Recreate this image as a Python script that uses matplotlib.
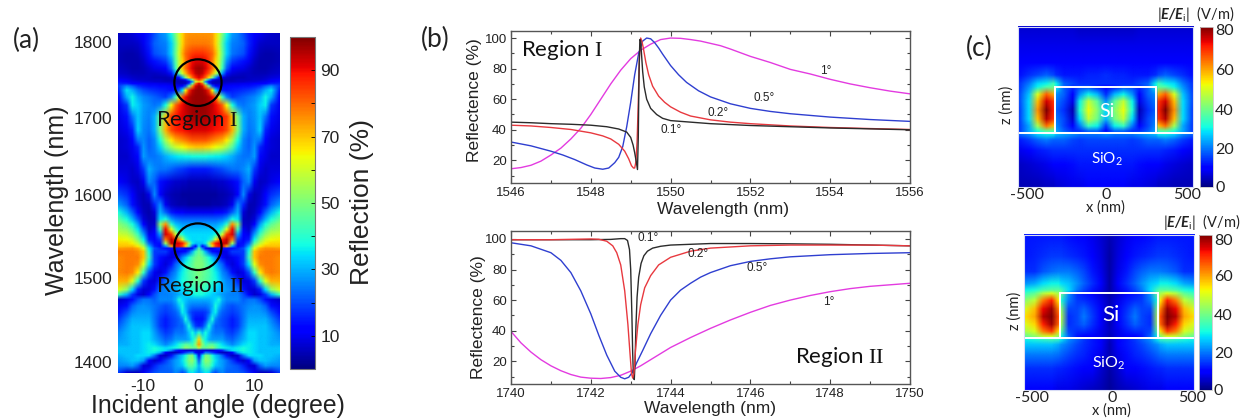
"""Three panel figure: reflection map (a), reflectance spectra (b), field maps (c)."""
import numpy as np
import matplotlib

matplotlib.use("Agg")
import matplotlib.pyplot as plt
from matplotlib.colors import Normalize
from matplotlib.image import NonUniformImage
from matplotlib.patches import Ellipse, Rectangle
from matplotlib.ticker import MultipleLocator

plt.rcParams["font.family"] = ["Liberation Sans", "DejaVu Sans"]
plt.rcParams["axes.unicode_minus"] = False
plt.rcParams["mathtext.fontset"] = "custom"
plt.rcParams["mathtext.rm"] = "Liberation Serif"
plt.rcParams["mathtext.bfit"] = "Lato:italic:bold"

W, H = 1246, 419

# (a) reflection map, read on a grid; the map is mirror symmetric in angle
ANGLES = [0, 0.6, 1.2, 1.8, 2.4, 3, 3.6, 4.2, 5, 6, 7, 8, 9, 10, 11, 12, 13, 14.5]
LAMBDAS = [1800, 1788, 1776, 1767, 1759, 1753, 1748, 1745.4, 1743, 1741, 1738, 1733, 1725, 1715.5,
           1702, 1686, 1674, 1666, 1655, 1640, 1625, 1610, 1598, 1589, 1581, 1575, 1569, 1563, 1557,
           1552.5, 1549, 1546.6, 1542.6, 1535.6, 1527.7, 1518, 1508, 1498, 1492, 1486, 1478.6, 1471,
           1463, 1455, 1447, 1439, 1433, 1429, 1426, 1423.6, 1420, 1414, 1408, 1400]
R_MAP = [
    [75, 75, 75, 75, 74, 68, 60, 50, 37, 28, 25, 20, 15, 12, 10, 8, 7, 6],
    [78, 78, 78, 77, 75, 68, 58, 46, 33, 25, 24, 22, 16, 10, 7, 6, 6, 6],
    [86, 86, 85, 83, 80, 72, 60, 48, 33, 24, 22, 20, 14, 8, 5, 4, 4, 5],
    [92, 92, 90, 85, 78, 68, 58, 45, 27, 18, 16, 14, 10, 6, 4, 4, 4, 5],
    [97, 96, 92, 87, 80, 70, 58, 42, 22, 12, 10, 9, 7, 5, 4, 4, 5, 6],
    [96, 94, 88, 82, 72, 60, 45, 28, 14, 8, 7, 6, 6, 5, 5, 5, 6, 7],
    [92, 88, 80, 68, 50, 28, 14, 9, 6, 5, 5, 5, 6, 6, 6, 7, 8, 9],
    [85, 75, 50, 28, 14, 8, 6, 5, 5, 5, 6, 6, 6, 7, 7, 8, 10, 12],
    [70, 60, 25, 10, 6, 5, 5, 5, 6, 6, 7, 7, 8, 8, 9, 10, 12, 14],
    [92, 80, 45, 18, 7, 6, 6, 7, 8, 9, 9, 10, 10, 11, 12, 13, 16, 16],
    [97, 92, 75, 48, 20, 11, 10, 10, 11, 13, 13, 14, 14, 15, 17, 22, 26, 18],
    [98, 97, 94, 86, 65, 35, 20, 15, 14, 15, 16, 17, 18, 20, 24, 30, 35, 16],
    [98, 98, 97, 95, 90, 82, 62, 42, 25, 18, 20, 22, 24, 26, 30, 37, 30, 13],
    [98, 98, 97, 96, 94, 90, 86, 80, 64, 38, 26, 24, 26, 28, 33, 36, 18, 10],
    [97, 97, 97, 95, 93, 92, 90, 88, 85, 70, 48, 30, 25, 27, 32, 24, 14, 9],
    [92, 92, 92, 91, 90, 89, 88, 87, 83, 72, 50, 30, 24, 26, 33, 16, 10, 8],
    [82, 82, 82, 80, 78, 76, 74, 72, 66, 55, 38, 26, 22, 26, 24, 12, 8, 7],
    [70, 70, 69, 68, 66, 64, 62, 60, 54, 45, 33, 25, 22, 27, 16, 10, 8, 7],
    [38, 38, 38, 37, 37, 36, 36, 35, 33, 30, 26, 24, 24, 28, 13, 9, 7, 7],
    [15, 15, 15, 16, 17, 18, 19, 20, 22, 24, 24, 26, 30, 18, 9, 7, 8, 8],
    [5, 5, 5, 5, 6, 6, 7, 7, 8, 10, 14, 22, 26, 10, 6, 7, 9, 12],
    [3, 3, 3, 3, 3, 3, 4, 4, 5, 7, 12, 26, 9, 5, 7, 12, 17, 20],
    [3, 3, 3, 3, 4, 4, 4, 5, 6, 10, 26, 16, 5, 5, 8, 14, 22, 28],
    [10, 10, 10, 10, 10, 11, 12, 13, 15, 22, 30, 8, 4, 6, 12, 22, 30, 38],
    [22, 22, 22, 22, 22, 22, 23, 24, 28, 38, 35, 6, 5, 8, 20, 30, 38, 46],
    [28, 28, 28, 28, 28, 28, 30, 32, 40, 75, 52, 7, 6, 12, 28, 38, 46, 52],
    [32, 32, 32, 32, 32, 32, 35, 42, 62, 90, 42, 10, 7, 20, 35, 45, 52, 55],
    [34, 34, 34, 34, 35, 38, 44, 60, 85, 92, 28, 12, 10, 28, 42, 52, 58, 60],
    [35, 34, 34, 36, 42, 60, 76, 88, 94, 78, 18, 12, 15, 36, 50, 60, 64, 65],
    [32, 32, 36, 52, 75, 88, 92, 94, 94, 55, 14, 14, 22, 45, 58, 65, 68, 68],
    [35, 12, 22, 45, 68, 84, 90, 90, 72, 28, 12, 16, 30, 55, 65, 70, 70, 70],
    [45, 25, 12, 8, 10, 14, 16, 14, 14, 14, 16, 20, 35, 62, 72, 75, 75, 74],
    [48, 42, 30, 20, 14, 12, 10, 8, 10, 18, 18, 18, 38, 70, 76, 78, 78, 78],
    [50, 48, 44, 38, 32, 26, 18, 13, 8, 10, 14, 18, 42, 70, 78, 78, 78, 76],
    [50, 50, 46, 42, 38, 32, 26, 22, 14, 8, 12, 18, 35, 62, 76, 78, 78, 76],
    [50, 48, 46, 44, 40, 36, 32, 26, 22, 14, 8, 10, 20, 42, 66, 76, 78, 76],
    [48, 47, 45, 43, 40, 38, 34, 30, 26, 24, 16, 8, 9, 18, 40, 62, 72, 72],
    [42, 42, 40, 38, 36, 34, 32, 30, 28, 26, 24, 14, 8, 8, 16, 34, 52, 62],
    [38, 38, 36, 35, 33, 32, 30, 28, 26, 25, 25, 20, 12, 7, 9, 18, 30, 42],
    [30, 30, 30, 30, 32, 34, 38, 30, 26, 26, 26, 22, 24, 24, 20, 14, 9, 7],
    [24, 24, 24, 26, 30, 38, 32, 26, 22, 20, 22, 24, 26, 27, 26, 22, 14, 10],
    [17, 17, 18, 22, 32, 36, 26, 22, 20, 18, 20, 24, 28, 28, 28, 26, 20, 14],
    [14, 14, 18, 28, 38, 26, 22, 20, 18, 15, 18, 24, 30, 30, 30, 30, 25, 18],
    [16, 18, 26, 38, 28, 22, 22, 20, 18, 15, 18, 25, 32, 32, 32, 32, 28, 22],
    [40, 32, 38, 32, 26, 24, 24, 24, 20, 18, 22, 28, 34, 34, 32, 32, 30, 26],
    [68, 45, 36, 30, 28, 28, 28, 28, 24, 22, 26, 30, 34, 34, 32, 32, 30, 28],
    [74, 52, 42, 45, 46, 42, 38, 34, 30, 26, 30, 34, 36, 34, 32, 32, 30, 30],
    [60, 48, 48, 50, 52, 46, 40, 38, 36, 34, 36, 38, 36, 34, 32, 32, 32, 32],
    [8, 8, 8, 8, 8, 10, 12, 16, 26, 34, 36, 38, 36, 34, 32, 32, 32, 32],
    [8, 12, 24, 22, 18, 14, 8, 6, 6, 12, 30, 36, 36, 34, 32, 32, 32, 32],
    [10, 35, 50, 48, 38, 32, 28, 22, 14, 6, 8, 24, 34, 34, 34, 32, 32, 30],
    [22, 42, 52, 50, 42, 35, 30, 28, 24, 18, 10, 7, 12, 28, 32, 32, 30, 28],
    [30, 40, 46, 46, 38, 32, 30, 28, 24, 22, 20, 16, 8, 8, 22, 28, 26, 26],
    [28, 32, 36, 34, 24, 20, 24, 26, 22, 22, 22, 20, 16, 10, 6, 6, 8, 18],
]
MAP_YTICKS = [1791, 1701, 1610, 1512, 1413]  # labels are offset from true position in the source
MAP_YLABELS = ["1800", "1700", "1600", "1500", "1400"]
CBAR_A_LABELS = [10, 30, 50, 70, 90]

# (b) Region I spectra
W1_01 = [1546, 1546.5, 1547, 1547.5, 1548, 1548.4, 1548.7, 1548.9, 1549, 1549.06, 1549.1, 1549.14, 1549.17,
         1549.19, 1549.21, 1549.23, 1549.25, 1549.27, 1549.3, 1549.34, 1549.4, 1549.5, 1549.65, 1549.8, 1550,
         1550.5, 1551, 1552, 1553, 1554, 1555, 1556]
R1_01 = [45, 44.6, 44, 43.6, 43, 42, 40.5, 38.5, 35, 30, 25, 19, 14, 35, 80, 99, 98, 90, 78, 68, 60, 54, 50,
         47.5, 46, 45, 44, 42.8, 42, 41.2, 40.6, 40]
W1_02 = [1546, 1546.5, 1547, 1547.5, 1548, 1548.3, 1548.5, 1548.7, 1548.85, 1548.95, 1549.02, 1549.07, 1549.1,
         1549.13, 1549.16, 1549.19, 1549.22, 1549.25, 1549.28, 1549.32, 1549.38, 1549.45, 1549.55, 1549.7,
         1549.85, 1550, 1550.25, 1550.5, 1551, 1551.5, 1552, 1553, 1554, 1555, 1556]
R1_02 = [43, 42.5, 41.5, 40.2, 38, 36, 34, 30.5, 26, 21, 16.5, 15, 15, 19, 32, 58, 88, 100, 98, 93, 84, 76,
         68.5, 62, 58, 55, 51.5, 49, 46.5, 45, 44, 42.5, 41.5, 40.8, 40.2]
W1_05 = [1546, 1546.5, 1547, 1547.3, 1547.6, 1547.9, 1548.1, 1548.3, 1548.45, 1548.6, 1548.7, 1548.8, 1548.9,
         1549, 1549.1, 1549.2, 1549.3, 1549.4, 1549.5, 1549.6, 1549.7, 1549.8, 1550, 1550.2, 1550.4, 1550.7,
         1551, 1551.5, 1552, 1552.5, 1553, 1554, 1555, 1556]
R1_05 = [32, 29.5, 26, 23.5, 20.5, 17, 15, 14.2, 15, 18.5, 22, 29, 42, 58, 76, 90, 98, 100, 99.5, 97, 93.5,
         89.5, 82, 76, 71, 65.5, 61.5, 57, 54, 52, 50.5, 48.3, 46.7, 45.5]
W1_10 = [1546, 1546.25, 1546.5, 1546.75, 1547, 1547.25, 1547.5, 1547.75, 1548, 1548.25, 1548.5, 1548.75, 1549,
         1549.25, 1549.5, 1549.75, 1550, 1550.25, 1550.5, 1550.75, 1551, 1551.25, 1551.5, 1552, 1552.5, 1553,
         1553.5, 1554, 1554.5, 1555, 1555.5, 1556]
R1_10 = [14.5, 15.3, 16.8, 19.5, 23.5, 28, 34, 41, 50, 60, 70, 79, 86.5, 92, 96, 99, 100, 99.8, 99, 98, 96.5,
         95, 92.8, 88, 84, 79.5, 76.5, 73, 70, 67.5, 65.3, 63.5]

# (b) Region II spectra
W2_01 = [1740, 1741, 1742, 1742.5, 1742.75, 1742.85, 1742.92, 1742.97, 1743, 1743.03, 1743.05, 1743.07, 1743.09,
         1743.11, 1743.13, 1743.16, 1743.2, 1743.26, 1743.33, 1743.42, 1743.55, 1743.75, 1744, 1745, 1746, 1747,
         1748, 1749, 1750]
R2_01 = [99.5, 99.5, 99.5, 99.7, 100.2, 100.2, 99, 93, 80, 50, 25, 9, 8, 20, 42, 62, 75, 84, 89, 92, 94, 95.2,
         96, 97, 97, 96.8, 96.5, 96, 95.5]
W2_02 = [1740, 1741, 1742, 1742.2, 1742.4, 1742.55, 1742.65, 1742.75, 1742.85, 1742.93, 1742.98, 1743.02, 1743.05,
         1743.08, 1743.12, 1743.18, 1743.25, 1743.35, 1743.5, 1743.7, 1744, 1744.5, 1745, 1746, 1747, 1748, 1749,
         1750]
R2_02 = [99.5, 99.5, 100, 99.8, 98.5, 95.5, 91, 83, 66, 44, 26, 12, 9, 12, 27, 44, 57, 68, 76, 83, 88, 92, 94,
         95.5, 96, 96, 96, 95.5]
W2_05 = [1740, 1740.5, 1741, 1741.25, 1741.5, 1741.75, 1742, 1742.2, 1742.4, 1742.6, 1742.75, 1742.85, 1742.95,
         1743.05, 1743.15, 1743.3, 1743.5, 1743.75, 1744, 1744.25, 1744.5, 1744.75, 1745, 1745.5, 1746, 1746.5,
         1747, 1747.5, 1748, 1749, 1750]
R2_05 = [97.5, 95.5, 91, 86, 78, 66, 51, 37, 24, 13.5, 9.5, 8.5, 9.5, 13, 19, 27, 38, 50, 60, 66.5, 71, 75, 78,
         82.5, 85.3, 87, 88.3, 89, 89.7, 90.5, 91]
W2_10 = [1740, 1740.25, 1740.5, 1740.75, 1741, 1741.25, 1741.5, 1741.75, 1742, 1742.25, 1742.5, 1742.75, 1743,
         1743.25, 1743.5, 1743.75, 1744, 1744.5, 1745, 1745.5, 1746, 1746.5, 1747, 1747.5, 1748, 1748.5, 1749,
         1749.5, 1750]
R2_10 = [39.5, 32, 26, 21, 17, 13.8, 11.3, 9.6, 8.9, 8.7, 9.3, 10.8, 13.5, 17, 21, 25, 29, 35.5, 41.5, 47, 52,
         56.5, 60, 63, 65.5, 67.5, 69, 70, 71]

# (c) field maps, read on a grid (half of the section, mirrored in x)
FIELD_X = [0, 50, 100, 150, 190, 240, 285, 300, 340, 390, 440, 500]
TOP_Z = [606, 500, 400, 330, 280, 263, 220, 180, 130, 80, 40, 10, -5, -40, -100, -180, -305]
TOP_E = [
    [5, 5, 5, 5, 6, 6, 6, 6, 6, 6, 6, 6],
    [8, 8, 8, 8, 8, 8, 8, 8, 8, 8, 8, 8],
    [10, 10, 10, 10, 10, 10, 10, 10, 10, 10, 10, 9],
    [14, 13, 13, 12, 12, 12, 14, 16, 18, 16, 14, 11],
    [14, 14, 14, 14, 16, 18, 30, 35, 30, 28, 20, 14],
    [10, 12, 16, 16, 14, 18, 30, 38, 36, 30, 22, 14],
    [14, 25, 30, 22, 10, 18, 22, 60, 66, 50, 26, 15],
    [22, 38, 48, 30, 8, 16, 20, 70, 76, 58, 28, 15],
    [28, 42, 52, 32, 4, 14, 18, 72, 82, 62, 28, 14],
    [25, 40, 48, 28, 6, 16, 20, 70, 78, 58, 28, 14],
    [15, 30, 34, 20, 10, 16, 22, 58, 65, 45, 24, 14],
    [10, 18, 18, 14, 14, 18, 24, 36, 38, 32, 24, 14],
    [22, 20, 20, 20, 22, 24, 26, 30, 30, 28, 22, 18],
    [16, 16, 16, 15, 16, 18, 18, 18, 20, 18, 15, 12],
    [14, 14, 14, 14, 14, 14, 14, 14, 13, 12, 10, 8],
    [12, 12, 12, 12, 11, 10, 10, 9, 8, 7, 6, 5],
    [9, 9, 9, 8, 8, 7, 6, 5, 5, 4, 4, 4],
]
BOT_Z = [607, 480, 390, 320, 280, 262, 220, 170, 125, 80, 40, 8, -5, -40, -100, -180, -303]
BOT_E = [
    [4, 6, 8, 9, 10, 11, 12, 12, 12, 12, 12, 12],
    [3, 7, 10, 12, 13, 14, 15, 15, 15, 14, 13, 12],
    [3, 8, 12, 16, 18, 20, 20, 20, 19, 17, 14, 14],
    [3, 9, 14, 18, 22, 26, 28, 30, 30, 28, 24, 22],
    [3, 8, 12, 16, 20, 28, 36, 38, 38, 36, 32, 30],
    [3, 6, 10, 12, 14, 22, 40, 45, 50, 46, 38, 34],
    [4, 8, 12, 14, 15, 20, 32, 55, 72, 64, 48, 42],
    [4, 9, 14, 18, 16, 16, 42, 64, 80, 74, 58, 50],
    [4, 9, 15, 20, 16, 14, 46, 68, 84, 78, 60, 55],
    [4, 9, 14, 18, 16, 14, 44, 66, 80, 72, 56, 50],
    [5, 8, 12, 14, 14, 16, 38, 56, 70, 64, 50, 46],
    [4, 8, 10, 10, 12, 18, 30, 42, 50, 48, 42, 38],
    [5, 9, 12, 15, 18, 22, 30, 34, 36, 34, 32, 30],
    [4, 9, 12, 14, 16, 19, 22, 24, 26, 26, 26, 26],
    [4, 8, 11, 13, 14, 16, 18, 19, 20, 20, 20, 20],
    [3, 6, 9, 10, 11, 12, 13, 13, 14, 14, 14, 14],
    [2, 4, 5, 6, 7, 8, 8, 8, 9, 9, 9, 9],
]
FIELD_TICKS = [0, 20, 40, 60, 80]

BLACK, RED, BLUE, MAGENTA = "#2b2b2b", "#e8393f", "#2f3fd0", "#e33be0"
TXT = "#222222"


def px_axes(fig, left, top, right, bottom):
    return fig.add_axes([left / W, 1 - bottom / H, (right - left) / W, (bottom - top) / H])


def px_text(fig, x, y, s, **kw):
    kw.setdefault("ha", "center")
    kw.setdefault("va", "center")
    kw.setdefault("color", TXT)
    return fig.text(x / W, 1 - y / H, s, **kw)


def map_image(ax, half_x, y_desc, half_values, vmax):
    """Bilinear image from a half grid, mirrored in x; y_desc runs from top to bottom."""
    half_values = np.asarray(half_values, dtype=float)[::-1]
    half_x = np.asarray(half_x, dtype=float)
    xs = np.concatenate([-half_x[:0:-1], half_x])
    ys = np.asarray(y_desc, dtype=float)[::-1]
    vals = np.hstack([half_values[:, :0:-1], half_values])
    im = NonUniformImage(ax, interpolation="bilinear", cmap="jet", norm=Normalize(0, vmax),
                         extent=(xs[0], xs[-1], ys[0], ys[-1]))
    im.set_data(xs, ys, vals)
    ax.add_image(im)
    ax.set_xlim(xs[0], xs[-1])
    ax.set_ylim(ys[0], ys[-1])
    ax.set_facecolor("#0000b8")
    return im


def spectra_panel(fig, top, bottom, xlim, ylim, curves, labels):
    ax = px_axes(fig, 511, top, 910, bottom)
    for wl, r, c in curves:
        ax.plot(wl, r, color=c, lw=1.0)
    ax.set_xlim(*xlim)
    ax.set_ylim(*ylim)
    ax.xaxis.set_major_locator(MultipleLocator(2))
    ax.xaxis.set_minor_locator(MultipleLocator(1))
    ax.yaxis.set_major_locator(MultipleLocator(20))
    ax.yaxis.set_minor_locator(MultipleLocator(10))
    ax.tick_params(which="both", direction="in", top=True, right=True, color="#444444",
                   labelsize=9.5, labelcolor=TXT, pad=3, width=0.8)
    ax.tick_params(which="major", length=3.5)
    ax.tick_params(which="minor", length=2)
    for sp in ax.spines.values():
        sp.set_color("#555555")
        sp.set_linewidth(1.0)
    for x, y, s in labels:
        px_text(fig, x, y, s, fontsize=8.5)
    return ax


def field_panel(fig, box, cbar, values, zs, ticks_y, tick_x, head, xlab, zlab, si, sio2, fs):
    left, top, right, bottom = box
    ax = px_axes(fig, left, top, right, bottom)
    im = map_image(ax, FIELD_X, zs, values, 82)
    ax.set_xticks([])
    ax.set_yticks([])
    for sp in ax.spines.values():
        sp.set_color("#d8dcf5")
        sp.set_linewidth(0.8)
    ax.add_patch(Rectangle((-288, 0), 576, 265, fill=False, ec="white", lw=1.4))
    ax.plot([-500, 500], [0, 0], color="white", lw=1.4)

    cax = px_axes(fig, *cbar)
    cb = fig.colorbar(im, cax=cax)
    cb.set_ticks([])
    cb.outline.set_edgecolor("#c8c8c8")
    cb.outline.set_linewidth(0.6)
    for v, y in zip(FIELD_TICKS, ticks_y):
        px_text(fig, cbar[2] + 2, y, str(v), fontsize=fs + 1, ha="left", family="Lato")
    for s, x in zip(["-500", "0", "500"], tick_x):
        px_text(fig, x, bottom + 8, s, fontsize=fs + 1, family="Lato")
    px_text(fig, head[0], head[1], r"|$\mathbfit{E/E}_{\mathdefault{i}}$|  (V/m)", fontsize=fs, family="Lato")
    px_text(fig, xlab[0], xlab[1], "x (nm)", fontsize=fs, family="Lato")
    px_text(fig, zlab[0], zlab[1], "z (nm)", fontsize=fs, family="Lato", rotation=90)
    px_text(fig, si[0], si[1], "Si", fontsize=si[2], family="Lato", color="white")
    px_text(fig, sio2[0], sio2[1], r"SiO$_\mathdefault{2}$", fontsize=sio2[2], family="Lato", color="white")


fig = plt.figure(figsize=(W / 100, H / 100), dpi=100)

# --- (a)
ax = px_axes(fig, 118, 34, 279, 373)
im = map_image(ax, ANGLES, LAMBDAS, R_MAP, 100)
ax.set_xticks([-10, 0, 10])
ax.set_yticks(MAP_YTICKS)
ax.set_yticklabels(MAP_YLABELS)
ax.tick_params(length=0, labelsize=12.5, labelcolor=TXT, pad=4)
for sp in ax.spines.values():
    sp.set_visible(False)
for center in (1742.6, 1549):
    ax.add_patch(Ellipse((-0.1, center), 8.5, 55, fill=False, ec="black", lw=1.6))

cax = px_axes(fig, 290, 37, 315, 369)
cb = fig.colorbar(im, cax=cax)
cb.set_ticks(CBAR_A_LABELS)
cb.ax.yaxis.set_minor_locator(MultipleLocator(10))
cb.ax.tick_params(which="both", direction="in", length=3, labelsize=12.5, labelcolor=TXT, pad=4, width=0.6)
cb.outline.set_edgecolor("#777777")

px_text(fig, 57, 200, "Wavelength (nm)", fontsize=18, rotation=90)
px_text(fig, 218, 406, "Incident angle (degree)", fontsize=17.8)
px_text(fig, 362, 202, "Reflection (%)", fontsize=19, rotation=90)
px_text(fig, 26, 40, "(a)", fontsize=19, family="Lato")
px_text(fig, 435, 39, "(b)", fontsize=19, family="Lato")
px_text(fig, 979, 48, "(c)", fontsize=19, family="Lato")
px_text(fig, 156, 120, r"Region $\mathrm{I}$", fontsize=16, family="Lato", ha="left", color="#111111")
px_text(fig, 156, 286, r"Region $\mathrm{II}$", fontsize=16, family="Lato", ha="left", color="#111111")

# --- (b)
spectra_panel(fig, 31, 183, (1546, 1556), (5.2, 104.6),
              [(W1_10, R1_10, MAGENTA), (W1_05, R1_05, BLUE), (W1_02, R1_02, RED), (W1_01, R1_01, BLACK)],
              [(826, 71, "1°"), (764, 98, "0.5°"), (718, 113, "0.2°"), (671, 130, "0.1°")])
spectra_panel(fig, 231, 384, (1740, 1750), (5.1, 105.2),
              [(W2_10, R2_10, MAGENTA), (W2_05, R2_05, BLUE), (W2_01, R2_01, BLACK), (W2_02, R2_02, RED)],
              [(648, 238, "0.1°"), (698, 254, "0.2°"), (757, 268, "0.5°"), (829, 302, "1°")])
px_text(fig, 475, 100, "Reflectence (%)", fontsize=12.5, rotation=90)
px_text(fig, 478, 317, "Reflectence (%)", fontsize=12.5, rotation=90)
px_text(fig, 723, 209, "Wavelength (nm)", fontsize=12.5)
px_text(fig, 710, 408, "Wavelength (nm)", fontsize=12.5)
px_text(fig, 521, 50, r"Region $\mathrm{I}$", fontsize=16, family="Lato", ha="left", color="#111111")
px_text(fig, 795, 357, r"Region $\mathrm{II}$", fontsize=16, family="Lato", ha="left", color="#111111")

# --- (c)
field_panel(fig, (1018, 27, 1193, 187), (1200, 27, 1213, 187), TOP_E, TOP_Z,
            [188, 150, 111, 71, 31], [1027, 1106, 1187], (1196, 14), (1105, 208), (1007, 105),
            (1107, 111, 14), (1107, 159, 11), 10.5)
field_panel(fig, (1024, 235, 1194, 390), (1199, 235, 1212, 390), BOT_E, BOT_Z,
            [391, 354, 316, 277, 241], [1032, 1112, 1192], (1202, 222), (1111, 411), (1015, 311),
            (1111, 315, 16), (1109, 363, 11.5), 10.5)

fig.savefig("out.png", dpi=100)
